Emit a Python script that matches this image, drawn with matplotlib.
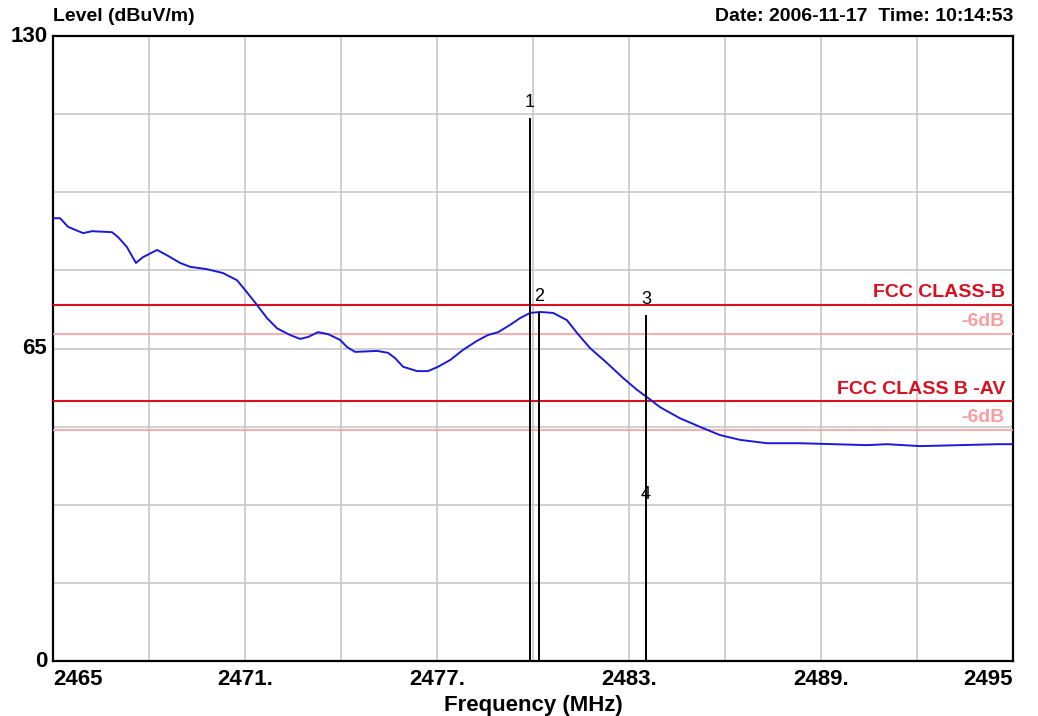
import matplotlib
matplotlib.use("Agg")
import matplotlib.pyplot as plt
import numpy as np

plt.rcParams['font.family'] = ['Liberation Sans', 'DejaVu Sans']

# measured trace (MHz, dBuV/m)
freq = [2465.0, 2465.22, 2465.47, 2465.94, 2466.22, 2466.84, 2467.03, 2467.31,
        2467.59, 2467.81, 2468.25, 2468.56, 2468.97, 2469.28, 2469.81, 2470.31,
        2470.75, 2471.06, 2471.38, 2471.69, 2472.0, 2472.41, 2472.72, 2472.97,
        2473.28, 2473.59, 2473.97, 2474.19, 2474.44, 2475.13, 2475.47, 2475.69,
        2475.94, 2476.38, 2476.72, 2477.03, 2477.41, 2477.81, 2478.25, 2478.59,
        2478.91, 2479.28, 2479.59, 2479.91, 2480.22, 2480.63, 2481.06, 2481.38,
        2481.78, 2482.31, 2482.81, 2483.25, 2483.56, 2483.97, 2484.59, 2485.22,
        2485.84, 2486.47, 2487.31, 2488.34, 2490.44, 2491.06, 2492.09, 2493.34,
        2494.53, 2495.0]
level = [92.1, 92.1, 90.3, 89.0, 89.4, 89.2, 88.2, 86.1,
         82.8, 84.0, 85.5, 84.4, 82.8, 82.0, 81.5, 80.7,
         79.2, 76.7, 74.0, 71.3, 69.2, 67.8, 67.0, 67.4,
         68.4, 68.0, 66.8, 65.3, 64.3, 64.5, 64.1, 63.0,
         61.2, 60.3, 60.3, 61.2, 62.6, 64.7, 66.6, 67.8,
         68.4, 69.9, 71.3, 72.4, 72.6, 72.4, 70.9, 68.2,
         65.1, 62.0, 58.9, 56.4, 54.9, 52.8, 50.5, 48.7,
         47.0, 46.0, 45.3, 45.3, 44.9, 45.1, 44.7, 44.9,
         45.1, 45.1]

# markers
marker_ids = ["1", "2", "3", "4"]
marker_freq = [2479.9, 2480.2, 2483.53, 2483.53]
marker_level = [112.9, 72.6, 72.0, 31.4]

# limit lines
limit_names = ["FCC CLASS-B", "FCC CLASS B -AV"]
limit_levels = [74, 54]
margin_db = 6

fig = plt.figure(figsize=(10.38, 7.16), dpi=100)
ax = fig.add_axes([0.0511, 0.0768, 0.9248, 0.8729])

ax.set_xlim(2465, 2495)
ax.set_ylim(0, 130)
ax.set_xticks(np.arange(2465, 2496, 3))
ax.set_yticks(np.linspace(0, 130, 9))
ax.grid(True, color='#c4c4c4', linewidth=1.1)
ax.tick_params(length=0, labelbottom=False, labelleft=False)
for s in ax.spines.values():
    s.set_linewidth(1.6)
    s.set_color('black')

red = '#d81020'
pink = '#f4a0a0'
for name, lv in zip(limit_names, limit_levels):
    ax.axhline(lv, color=red, linewidth=1.5, zorder=3)
    ax.axhline(lv - margin_db, color=pink, linewidth=1.2, zorder=3)
    ax.text(2494.75, lv + 0.8, name, color=red, fontsize=14, fontweight='bold',
            ha='right', va='bottom', zorder=4)
    ax.text(2494.75, lv - margin_db + 0.8, "-%ddB" % margin_db, color=pink,
            fontsize=14, fontweight='bold', ha='right', va='bottom', zorder=4)

ax.plot(freq, level, color='#1a1ad8', linewidth=1.4, zorder=5)

for mid, mf, ml in zip(marker_ids, marker_freq, marker_level):
    ax.vlines(mf, 0, ml, color='black', linewidth=1.4, zorder=6)
    ax.text(mf, ml + 1.5, mid, fontsize=13, ha='center', va='bottom', zorder=7)

# axis texts
lab = dict(fontsize=16, fontweight='bold')
ax.text(0, 1.018, "Level (dBuV/m)", transform=ax.transAxes, ha='left', va='bottom', fontsize=14, fontweight='bold')
ax.text(1, 1.018, "Date: 2006-11-17  Time: 10:14:53", transform=ax.transAxes, ha='right', va='bottom', fontsize=14, fontweight='bold')
for v, t in [(130, "130"), (65, "65"), (0, "0")]:
    ax.text(-0.006, v, t, transform=ax.get_yaxis_transform(), ha='right', va='center', **lab)
xt = [(2465, "2465", 'left'), (2471, "2471.", 'center'), (2477, "2477.", 'center'),
      (2483, "2483.", 'center'), (2489, "2489.", 'center'), (2495, "2495", 'right')]
for v, t, h in xt:
    ax.text(v, -0.012, t, transform=ax.get_xaxis_transform(), ha=h, va='top', **lab)
ax.text(0.5, -0.055, "Frequency (MHz)", transform=ax.transAxes, ha='center', va='top', **lab)

fig.savefig('out.png', dpi=100)
